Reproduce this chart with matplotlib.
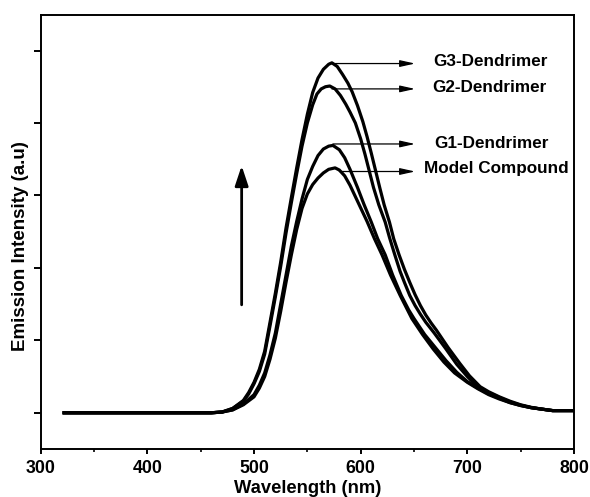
import matplotlib
matplotlib.use("Agg")
import matplotlib.pyplot as plt

plt.rcParams['font.family'] = ['Liberation Sans', 'DejaVu Sans']

# Emission spectra (wavelength in nm, intensity in arbitrary units)
wl_g3 = [322, 460, 470, 480, 490, 495, 500, 505, 510, 515, 520, 525, 530, 535, 540,
         545, 550, 555, 560, 565, 570, 573, 578, 583, 588, 592, 597, 602, 606, 610,
         614, 618, 622, 627, 631, 636, 641, 646, 651, 656, 661, 666, 671, 682, 693,
         702, 712, 720, 730, 740, 750, 760, 770, 780, 800]
int_g3 = [0.0, 0.0, 0.01, 0.06, 0.17, 0.28, 0.42, 0.6, 0.85, 1.25, 1.65, 2.08, 2.55,
          2.97, 3.38, 3.77, 4.12, 4.42, 4.62, 4.74, 4.81, 4.83, 4.78, 4.67, 4.55, 4.43,
          4.24, 4.02, 3.81, 3.58, 3.34, 3.10, 2.87, 2.63, 2.40, 2.18, 1.98, 1.80, 1.63,
          1.48, 1.35, 1.24, 1.14, 0.90, 0.68, 0.51, 0.36, 0.29, 0.22, 0.16, 0.11,
          0.075, 0.05, 0.03, 0.03]

wl_g2 = [322, 460, 470, 480, 490, 495, 500, 505, 510, 515, 520, 525, 530, 535, 540,
         545, 550, 555, 559, 563, 567, 571, 576, 581, 586, 590, 595, 600, 604, 608,
         612, 617, 623, 627, 632, 637, 641, 646, 651, 656, 661, 669, 680, 690, 700,
         710, 720, 730, 740, 750, 760, 770, 780, 800]
int_g2 = [0.0, 0.0, 0.01, 0.06, 0.16, 0.26, 0.4, 0.57, 0.81, 1.2, 1.6, 2.02, 2.48,
          2.9, 3.3, 3.68, 4.0, 4.25, 4.40, 4.47, 4.50, 4.51, 4.47, 4.38, 4.26, 4.15,
          4.0, 3.78, 3.57, 3.34, 3.11, 2.87, 2.63, 2.42, 2.18, 1.95, 1.80, 1.62, 1.48,
          1.36, 1.25, 1.10, 0.88, 0.67, 0.5, 0.35, 0.28, 0.21, 0.15, 0.105, 0.07,
          0.05, 0.03, 0.03]

wl_g1 = [322, 460, 470, 480, 490, 500, 505, 510, 515, 520, 525, 530, 535, 540, 545,
         550, 555, 560, 565, 570, 574, 580, 585, 590, 597, 603, 610, 616, 623, 630,
         638, 645, 650, 660, 670, 680, 690, 700, 710, 720, 730, 740, 750, 760, 770,
         780, 800]
int_g1 = [0.0, 0.0, 0.01, 0.04, 0.12, 0.25, 0.38, 0.55, 0.8, 1.1, 1.5, 1.9, 2.3,
          2.64, 2.95, 3.22, 3.40, 3.55, 3.64, 3.68, 3.69, 3.63, 3.52, 3.36, 3.11, 2.88,
          2.63, 2.4, 2.18, 1.9, 1.62, 1.42, 1.3, 1.08, 0.9, 0.72, 0.56, 0.43, 0.34,
          0.26, 0.2, 0.14, 0.1, 0.07, 0.05, 0.03, 0.03]

wl_mc = [322, 460, 470, 480, 490, 500, 505, 510, 515, 520, 525, 530, 535, 540, 545,
         550, 555, 560, 565, 570, 576, 580, 585, 590, 598, 606, 613, 620, 628, 637,
         648, 658, 668, 678, 688, 700, 710, 720, 730, 740, 750, 760, 770, 780, 800]
int_mc = [0.0, 0.0, 0.01, 0.04, 0.11, 0.22, 0.34, 0.5, 0.74, 1.03, 1.4, 1.8, 2.18,
          2.53, 2.82, 3.02, 3.15, 3.24, 3.31, 3.36, 3.38, 3.35, 3.27, 3.14, 2.89, 2.64,
          2.4, 2.18, 1.9, 1.62, 1.3, 1.08, 0.88, 0.7, 0.55, 0.42, 0.33, 0.25, 0.19,
          0.14, 0.1, 0.07, 0.05, 0.03, 0.03]

series_names = ["G3-Dendrimer", "G2-Dendrimer", "G1-Dendrimer", "Model Compound"]
series_wl = [wl_g3, wl_g2, wl_g1, wl_mc]
series_int = [int_g3, int_g2, int_g1, int_mc]

# Label callouts: arrow start (peak wavelength), arrow height, text anchor
callout_start = [571, 573, 574, 580]
callout_y = [4.82, 4.47, 3.71, 3.33]
text_x = [667.7, 667.4, 668.6, 659.2]
text_y = [4.78, 4.43, 3.65, 3.31]

x_ticks = [300, 400, 500, 600, 700, 800]
x_minor = [350, 450, 550, 650, 750]
y_ticks = [0, 1, 2, 3, 4, 5]

W, H = 590, 497
fig = plt.figure(figsize=(W / 100, H / 100), dpi=100)
ax = fig.add_axes([40.7 / W, 48 / H, 533.3 / W, 434 / H])

for wl, inten in zip(series_wl, series_int):
    ax.plot(wl, inten, color='black', lw=2.3, solid_joinstyle='round')

for name, x0, yv, tx, ty in zip(series_names, callout_start, callout_y, text_x, text_y):
    ax.annotate('', xy=(651, yv), xytext=(x0, yv),
                arrowprops=dict(arrowstyle='-|>,head_length=0.9,head_width=0.2',
                                mutation_scale=10, lw=0.9, color='black',
                                shrinkA=0, shrinkB=0))
    ax.text(tx, ty, name, fontsize=12.3, fontweight='bold', ha='left',
            va='baseline')

# Upward arrow indicating increasing intensity with generation
ax.annotate('', xy=(488.4, 3.41), xytext=(488.4, 1.49),
            arrowprops=dict(arrowstyle='-|>,head_length=1.2,head_width=0.4',
                            mutation_scale=10, lw=2.0, color='black',
                            shrinkA=0, shrinkB=0))

ax.set_xlim(300, 800)
ax.set_ylim(-0.5, 5.49)
ax.set_xticks(x_ticks)
ax.set_xticks(x_minor, minor=True)
ax.set_yticks(y_ticks)
ax.set_yticklabels([])
ax.tick_params(axis='x', which='major', direction='out', length=3.5, width=1.4,
               pad=4.5, labelsize=12.8)
ax.tick_params(axis='x', which='minor', direction='out', length=2.2, width=1.2)
ax.tick_params(axis='y', which='major', direction='out', length=5, width=1.4)
for lbl in ax.get_xticklabels():
    lbl.set_fontweight('bold')
for sp in ax.spines.values():
    sp.set_linewidth(1.4)

ax.set_xlabel('Wavelength (nm)', fontsize=13.2, fontweight='bold')
ax.xaxis.set_label_coords(0.5, -0.072)
fig.text(20.5 / W, 1 - 246 / H, 'Emission Intensity (a.u)', rotation=90,
         ha='center', va='center', fontsize=13.5, fontweight='bold')

fig.savefig('out.png', dpi=100)
